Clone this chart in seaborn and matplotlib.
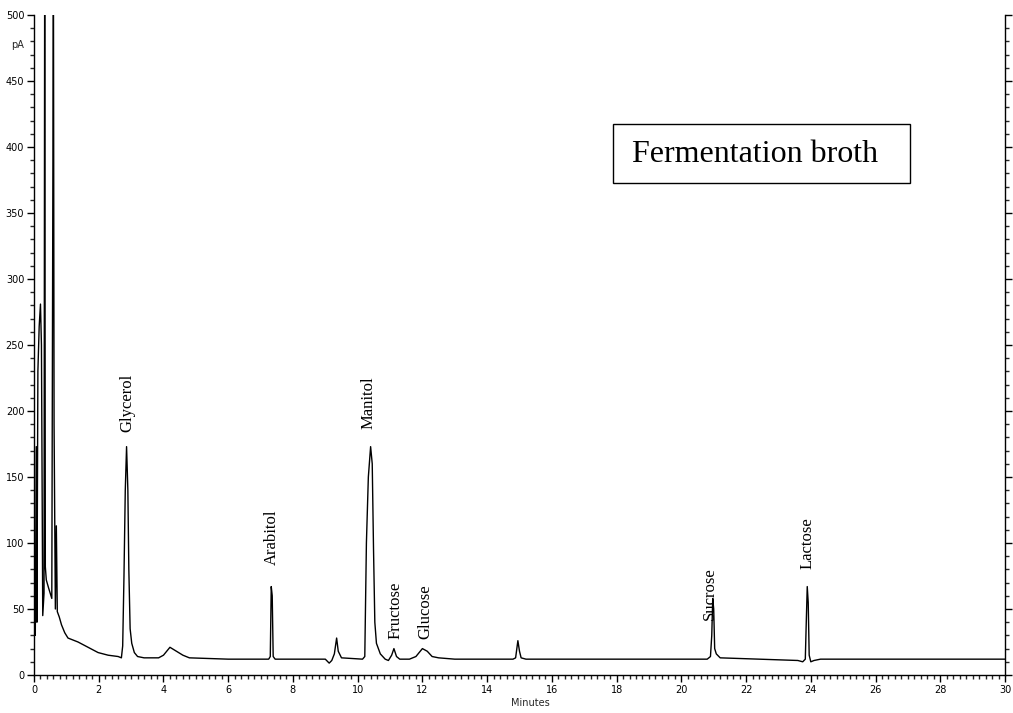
import matplotlib
matplotlib.use("Agg")
import matplotlib.pyplot as plt
import seaborn as sns
import pandas as pd
from matplotlib.ticker import MultipleLocator
from matplotlib.patches import Rectangle

# ---- data ----
times = [0.00, 0.02, 0.04, 0.07, 0.09, 0.12, 0.16, 0.20, 0.23, 0.27, 0.31, 0.33,
         0.35, 0.38, 0.45, 0.55, 0.60, 0.62, 0.66, 0.69, 0.72, 0.78, 0.85, 0.95,
         1.05, 1.36, 1.67, 1.98, 2.29, 2.60, 2.70, 2.74, 2.78, 2.82, 2.86, 2.90,
         2.93, 2.97, 3.02, 3.10, 3.20, 3.40, 3.85, 4.00, 4.20, 4.40, 4.60, 4.80,
         6.00, 7.00, 7.25, 7.30, 7.33, 7.36, 7.39, 7.45, 8.50, 9.00, 9.12, 9.20,
         9.28, 9.35, 9.40, 9.50, 10.15, 10.22, 10.27, 10.33, 10.40, 10.45, 10.49,
         10.53, 10.58, 10.70, 10.85, 10.95, 11.05, 11.12, 11.20, 11.30, 11.60,
         11.80, 12.00, 12.15, 12.30, 12.50, 13.00, 14.80, 14.88, 14.95, 15.00,
         15.05, 15.20, 18.00, 20.80, 20.90, 20.94, 20.97, 21.00, 21.03, 21.08,
         21.20, 23.60, 23.75, 23.83, 23.86, 23.89, 23.92, 23.95, 24.00, 24.10,
         24.30, 27.00, 30.00]
signal = [28, 48, 30, 173, 40, 230, 264, 281, 250, 45, 62, 540,
          82, 72, 66, 58, 540, 190, 50, 113, 48, 44, 38, 32,
          28, 25, 21, 17, 15, 14, 13, 22, 75, 140, 173, 140,
          80, 35, 24, 17, 14, 13, 13, 15, 21, 18, 15, 13,
          12, 12, 12, 14, 67, 60, 14, 12, 12, 12, 9, 11,
          16, 28, 18, 13, 12, 14, 100, 150, 173, 160, 95,
          40, 24, 16, 12, 11, 15, 20, 14, 12, 12,
          14, 20, 18, 14, 13, 12, 12, 13, 26, 18,
          13, 12, 12, 12, 14, 30, 58, 50, 20, 16,
          13, 11, 10, 12, 40, 67, 55, 15, 10, 11,
          12, 12, 12]

peak_names = ["Glycerol", "Arabitol", "Manitol", "Fructose", "Glucose", "Sucrose", "Lactose"]
peak_times = [2.90, 7.35, 10.35, 11.18, 12.08, 20.88, 23.90]
label_base = [184, 83, 186, 27, 27, 42, 80]

x_ticks = list(range(0, 31, 2))
y_ticks = list(range(0, 501, 50))

df = pd.DataFrame({"Minutes": times, "pA": signal})

sns.set_style("ticks")
plt.rcParams["font.family"] = ["DejaVu Sans"]

fig = plt.figure(figsize=(10.13, 7.13), dpi=100)
ax = fig.add_axes([34 / 1013, 1 - 675 / 713, (1005 - 34) / 1013, (675 - 15) / 713])

sns.lineplot(data=df, x="Minutes", y="pA", ax=ax, color="black",
             linewidth=1.0, sort=False, estimator=None)

ax.set_xlim(0, 30)
ax.set_ylim(0, 500)
ax.set_xticks(x_ticks)
ax.set_yticks(y_ticks)
ax.xaxis.set_minor_locator(MultipleLocator(0.2))
ax.yaxis.set_minor_locator(MultipleLocator(10))
ax.tick_params(axis="both", which="major", direction="out", length=5, width=1,
               labelsize=7, colors="black", pad=2)
ax.tick_params(axis="both", which="minor", direction="out", length=3, width=1)
ax.tick_params(axis="y", which="both", right=True)
ax.spines["top"].set_visible(False)
for s in ["left", "right", "bottom"]:
    ax.spines[s].set_visible(True)
    ax.spines[s].set_color("black")
    ax.spines[s].set_linewidth(1.0)

ax.set_xlabel("")
ax.set_ylabel("")
fig.text(530 / 1013, 1 - 703 / 713, "Minutes", ha="center", va="center", fontsize=7)
fig.text(18 / 1013, 1 - 45 / 713, "pA", ha="center", va="center", fontsize=7)

for name, t, b in zip(peak_names, peak_times, label_base):
    ax.text(t, b, name, rotation=90, ha="center", va="bottom",
            fontsize=12, family="Liberation Serif", color="black")

ax.add_patch(Rectangle((0.5963, 0.7455), 0.9022 - 0.5963, 0.8348 - 0.7455,
                       transform=ax.transAxes, facecolor="white",
                       edgecolor="black", linewidth=1.0, zorder=3))
ax.text(0.7425, 0.789, "Fermentation broth", transform=ax.transAxes,
        ha="center", va="center", fontsize=23, family="Liberation Serif",
        color="black", zorder=4)

fig.savefig("out.png", dpi=100)
